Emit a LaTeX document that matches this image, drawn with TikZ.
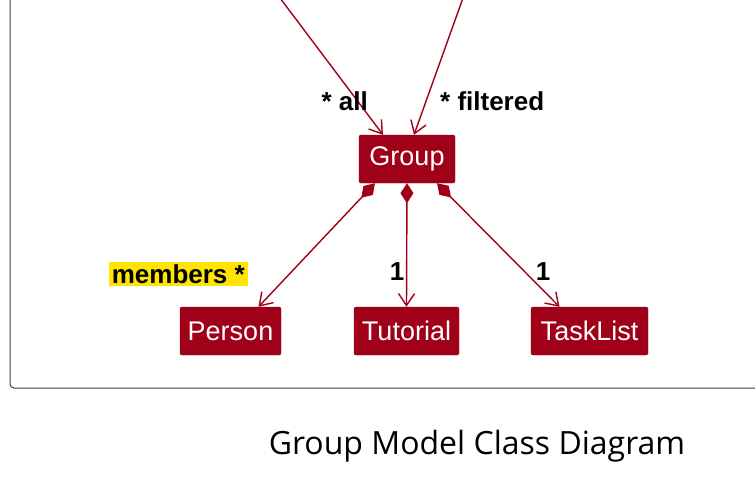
\documentclass[tikz,border=0pt]{standalone}
\usepackage{fontspec}
\setmainfont{Liberation Sans}
\newfontfamily\captionfont{Open Sans}
\usetikzlibrary{arrows.meta,positioning}
\definecolor{umlred}{HTML}{A00018}
\definecolor{notebg}{HTML}{FFE500}
\tikzset{
	classbox/.style={fill=umlred,draw=umlred!85!black,rounded corners=2pt,text=white,
		minimum height=48pt,inner xsep=4pt,font=\fontsize{27}{30}\selectfont},
	assoc/.style={umlred,line width=1.4pt,-{Straight Barb[length=12pt,width=16pt]}},
	compo/.style={umlred,line width=1.4pt,{Diamond[length=20pt,width=13pt]}-{Straight Barb[length=12pt,width=16pt]}},
	mult/.style={font=\bfseries\fontsize{26}{28}\selectfont,inner sep=1pt}
}
\begin{document}
\begin{tikzpicture}[x=1pt,y=-1pt]
					\useasboundingbox (0,0) rectangle (755,480);
					% frame
					\draw[line width=1pt,black!75,rounded corners=4pt] (10,-5) -- (10,388) -- (760,388);
					% classes
					\node[classbox,minimum width=96pt] (group) at (407,159) {Group};
					\node[classbox,minimum width=101pt] (person) at (230.5,331) {Person};
					\node[classbox,minimum width=105pt] (tutorial) at (406.5,331) {Tutorial};
					\node[classbox,minimum width=117pt] (tasklist) at (589.5,331) {TaskList};
					% incoming associations
					\coordinate (allsrc) at (280,-2);
					\coordinate (filtsrc) at (463,-2);
					\draw[assoc] (allsrc) -- ([xshift=-24pt]group.north);
					\draw[assoc] (filtsrc) -- ([xshift=7pt]group.north);
					\node[mult,anchor=east] at (369,101) {* all};
					\node[mult,anchor=west] at (439,101) {* filtered};
					% compositions
					\draw[compo] ([xshift=-32pt]group.south) -- ([xshift=28pt]person.north);
					\draw[compo] (group.south) -- (tutorial.north);
					\draw[compo] ([xshift=30pt]group.south) -- ([xshift=-30pt]tasklist.north);
					\node[mult,fill=notebg,anchor=east,inner xsep=3pt,inner ysep=2pt] at (248,274) {members *};
					\node[mult] at (397,272) {1};
					\node[mult] at (543,272) {1};
					% caption
					\node[font=\captionfont\fontsize{32}{36}\selectfont] (caption) at (477,446) {Group Model Class Diagram};
					\end{tikzpicture}
\end{document}
